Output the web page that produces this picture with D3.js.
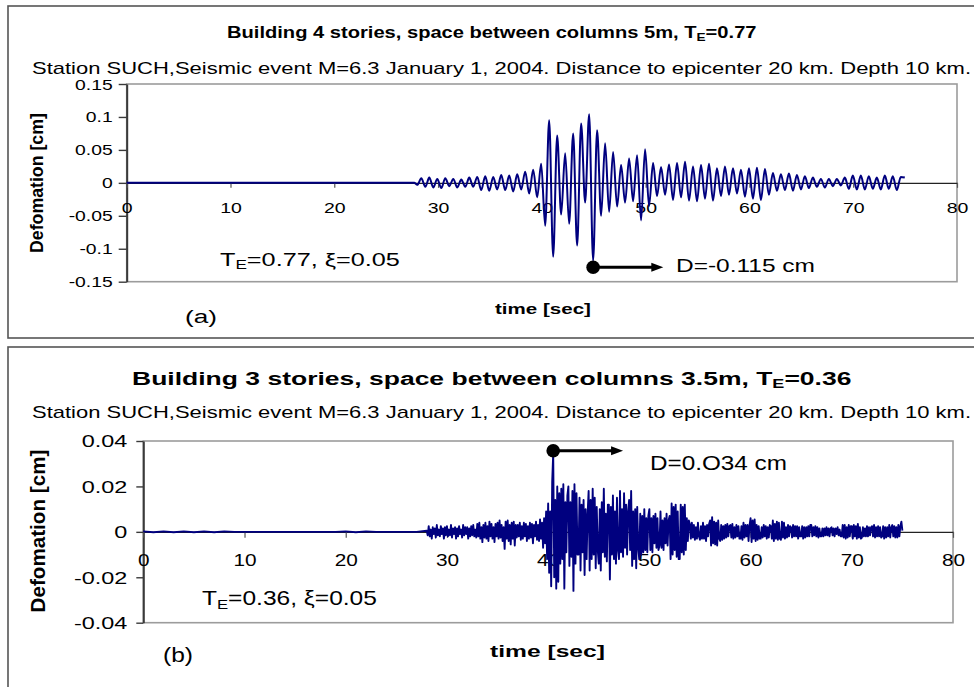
<!DOCTYPE html>
<html>
<head>
<meta charset="utf-8">
<script src="https://cdn.jsdelivr.net/npm/d3@7"></script>
<style>
  body { margin: 0; background: #fff; }
  svg { display: block; }
  text { font-family: "Liberation Sans", Arial, sans-serif; }
</style>
</head>
<body>
<svg id="c" width="974" height="687"></svg>
<script>
// ---------------- DATA ----------------
const xTicks = [0, 10, 20, 30, 40, 50, 60, 70, 80];
const xTickLabels = ["0", "10", "20", "30", "40", "50", "60", "70", "80"];

const yTicksA = [0.15, 0.1, 0.05, 0, -0.05, -0.1, -0.15];
const yTickLabelsA = ["0.15", "0.1", "0.05", "0", "-0.05", "-0.1", "-0.15"];
const yTicksB = [0.04, 0.02, 0, -0.02, -0.04];
const yTickLabelsB = ["0.04", "0.02", "0", "-0.02", "-0.04"];

// Panel (a): deformation [cm], alternate peaks read every half period (0.385 s) from 28 s
const preTimesA = [0, 27.7];
const preValuesA = [0, 0];
const startA = 28.0, stepA = 0.385;
const valuesA = [
  -0.003, 0.007, -0.006, 0.008, -0.007, 0.006, -0.008, 0.007, -0.005, 0.006,
  -0.007, 0.005, -0.006, 0.008, -0.006, 0.009, -0.011, 0.010, -0.012, 0.009,
  -0.010, 0.012, -0.011, 0.011, -0.013, 0.013, -0.010, 0.017, -0.016, 0.020,
  -0.022, 0.029, -0.065, 0.095, -0.112, 0.072, -0.048, 0.045, -0.062, 0.075,
  -0.095, 0.090, -0.030, 0.104, -0.118, 0.080, -0.050, 0.060, -0.044, 0.047,
  -0.036, 0.027, -0.030, 0.037, -0.028, 0.042, -0.057, 0.051, -0.035, 0.030,
  -0.020, 0.024, -0.018, 0.028, -0.026, 0.030, -0.022, 0.032, -0.027, 0.025,
  -0.028, 0.027, -0.024, 0.029, -0.027, 0.022, -0.020, 0.025, -0.018, 0.022,
  -0.016, 0.020, -0.021, 0.022, -0.024, 0.023, -0.026, 0.021, -0.018, 0.015,
  -0.012, 0.013, -0.011, 0.014, -0.012, 0.012, -0.010, 0.010, -0.008, 0.008,
  -0.006, 0.006, -0.007, 0.006, -0.005, 0.006, -0.004, 0.008, -0.009, 0.011,
  -0.010, 0.011, -0.010, 0.010, -0.009, 0.008, -0.010, 0.011, -0.009, 0.010,
  -0.011, 0.009, 0.008
];

// Panel (b): deformation in 10^-3 cm, read every 0.1 s from 28 s
const unitB = 0.001;
const preStepB = 1.0;
const preValuesB = [
  0.2, -0.2, 0.2, -0.2, 0.2, -0.2, 0.2, -0.2, 0.2, 0,
  0, 0, 0, 0, 0, 0, 0, 0, 0, 0,
  0.2, -0.2, 0.2, 0, 0, 0, 0, 0
];
const startB = 28.0, stepB = 0.1;
const valuesB = [
  0.5, -1.5, 2.5, -2, 1, -3, 2, -1, 1.5, -2.5,
  3, -1.5, 1, -2, 2.5, -1, 1.5, -3, 2, -1.5,
  2.5, -2, 1, -1.5, 3, -2.5, 1.5, -1, 2, -3,
  1.5, -2, 2.5, -1, 1, -2.5, 3, -1.5, 2, -1,
  2, -3, 1.5, -2, 2.5, -1.5, 3, -2, 1, -2.5,
  3.5, -2, 4, -3, 2, -4.5, 3, -2.5, 4, -3,
  2.5, -4, 4.5, -2, 3.5, -3, 2, -4.5, 3.5, -2,
  4, -3, 5, -2.5, 3, -4, 2, -7.5, 4.5, -3,
  5, -4, 3, -5.5, 4, -3, 4.5, -6, 3, -2.5,
  3, -2, 4, -3.5, 2.5, -3, 4, -2, 3.5, -4,
  2.5, -3, 4, -2.5, 3.5, -5, 3, -2, 4.5, -3.5,
  3, -4, 5.5, -3, 4, -7, 6, -5, 9, -12,
  12.5, -18, 9, -24, 22, 34.5, -20, 14, -25, 20,
  -22, 17, -14, 19, -12, 21, -25, 13, -9, 16,
  20, -15, 13, -11, 18, -26, 21, -14, 17, -10,
  -10, 15, -17, 12, -9, 14, -19, 10, -12, 8,
  18, -17, 14, -12, 19, -10, 15, -16, 11, -8,
  -14, 10, -17, 13, -9, 19, -11, 8, -13, 12,
  12, -21, 11, -10, 16, -12, 9, -14, 15, -8,
  -12, 18, -9, 10, -11, 17, -7, 12, -10, 9,
  14, -8, 18, -15, 9, -12, 10, -16, 11, -7,
  -12, 8, -10, 7, -9, 10, -8, 6, -9, 7,
  10, -8, 6, -9, 7, -5, 8, -7, 6, -8,
  -6, 9, -7, 5, -8, 6, -5, 8, -6, 5,
  7, -12, 12.5, -10, 11, -8, 12, -11, 9, -12,
  -12, 12, -9, 11, -10, 12, -8, 6, -4, 5,
  3.5, -3, 4, -2.5, 3, -3.5, 2, -3, 4, -2,
  -3.5, 2.5, -3, 4, -3, 2.5, -4, 3, -2, 3.5,
  5, -6, 6.5, -5, 4.5, -5.5, 4, -6, 5, -3,
  -4, 3, -3.5, 2.5, -3, 3, -2.5, 3.5, -2, 2.5,
  3, -2.5, 3.5, -3, 2, -2.5, 3, -2, 2.5, -3,
  -3, 2.5, -3.5, 4, -2.5, 3, -2, 3, -4, 3,
  6, -4.5, 5, -3, 5.5, -4, 3, -3.5, 2.5, -3,
  -3, 2, -2.5, 3, -2, 2.5, -3, 2, -2.5, 3,
  2.5, -3, 5, -4, 3.5, -3, 4.5, -3.5, 4, -3,
  -3.5, 4.5, -2.5, 4, -3, 2, -2.5, 3, -2, 2.5,
  2, -2.5, 3, -2, 2.5, -2, 2.5, -3, 2, -2,
  -2, 2.5, -3, 2, -2.5, 2, -2, 2.5, -2, 3,
  3, -2, 2, -1.5, 2.5, -2, 2, -2.5, 1.5, -2,
  -2, 1.5, -2, 1.5, -1.5, 2, -1.5, 1.5, -2, 1.5,
  2, -1.5, 1.5, -2, 1.5, -1, 2, -1.5, 1, -2,
  -2, 3, -2.5, 3, -3, 2, -2.5, 3, -2, 2.5,
  2.5, -3, 3, -2, 2.5, -3, 3.5, -2.5, 2, -3,
  -2.5, 2, -2, 1.5, -2, 2.5, -2, 2, -1.5, 2,
  2.5, -2, 3, -2.5, 2, -2, 2.5, -2, 2, -2.5,
  -2, 2.5, -3, 2, -2.5, 2, -2, 3, -2.5, 2,
  3, -2, 2.5, -2.5, 2, -2.5, 3, -2, 2.5, 4.5,
  0.5
];

// annotations (data units)
const peakA = { t: 44.94, v: -0.128, arrowTo: 51.7, label: "D=-0.115 cm" };
const peakB = { t: 40.5, v: 0.0357, arrowTo: 47.4, label: "D=0.O34 cm" };

// ---------------- DRAW ----------------
const svg = d3.select("#c");
const NAVY = "#00007f";

svg.append("rect").attr("x", 8).attr("y", 6).attr("width", 980).attr("height", 332)
  .attr("fill", "none").attr("stroke", "#555").attr("stroke-width", 1.6);
svg.append("rect").attr("x", 8).attr("y", 347).attr("width", 980).attr("height", 360)
  .attr("fill", "none").attr("stroke", "#555").attr("stroke-width", 1.6);

function label(parent, s) {
  const g = parent.append("g").attr("transform", `translate(${s.x},${s.y})`);
  const inner = g.append("g");
  const t = inner.append("text").attr("font-size", s.size)
    .attr("font-weight", s.bold ? "bold" : "normal").attr("fill", "#000");
  let prevSub = false;
  s.parts.forEach(p => {
    if (typeof p === "object") {
      t.append("tspan").attr("font-size", s.size * 0.68).attr("dy", s.size * 0.18).text(p.sub);
      prevSub = true;
    } else {
      const ts = t.append("tspan").text(p);
      if (prevSub) ts.attr("dy", -s.size * 0.18);
      prevSub = false;
    }
  });
  const w = t.node().getComputedTextLength();
  if (s.rotate) {
    t.attr("x", -w / 2);
    g.attr("transform", `translate(${s.x},${s.y}) scale(${s.thick || 1},1) rotate(-90)`);
    inner.attr("transform", `scale(${s.width / w},1)`);
    return;
  }
  const sc = s.width ? s.width / w : (s.sx || 1);
  const off = s.anchor === "middle" ? -w / 2 : s.anchor === "end" ? -w : 0;
  t.attr("x", off);
  inner.attr("transform", `scale(${sc},1)`);
}

function panel(P) {
  const g = svg.append("g");
  const x = d3.scaleLinear().domain([0, 80]).range([P.x0, P.x1]);
  const y = d3.scaleLinear().domain(P.yDomain).range([P.yBot, P.yTop]);

  g.append("rect").attr("x", P.x0).attr("y", P.yTop).attr("width", P.x1 - P.x0)
    .attr("height", P.yBot - P.yTop).attr("fill", "none")
    .attr("stroke", "#9c9c9c").attr("stroke-width", 1.6);

  const ya = d3.axisLeft(y).tickValues(P.yTicks)
    .tickFormat(d => P.yLabels[P.yTicks.indexOf(d)]).tickSize(P.yTickLen).tickSizeOuter(0);
  const gy = g.append("g").attr("transform", `translate(${P.x0},0)`).call(ya);
  gy.select(".domain").attr("stroke", "#3a3a3a").attr("stroke-width", 2);
  gy.selectAll(".tick line").attr("stroke", "#3a3a3a").attr("stroke-width", 1.4);
  gy.selectAll(".tick text").attr("x", null).attr("dy", null)
    .attr("font-family", "Liberation Sans, Arial, sans-serif")
    .attr("font-size", P.ySize).attr("fill", "#000").attr("text-anchor", "end")
    .attr("transform", `translate(${-P.yGap},${P.ySize * 0.36}) scale(${P.ySx},1)`);

  const xa = d3.axisBottom(x).tickValues(xTicks)
    .tickFormat(d => xTickLabels[xTicks.indexOf(d)]).tickSize(P.xTickLen).tickSizeOuter(0);
  const gx = g.append("g").attr("transform", `translate(0,${y(0)})`).call(xa);
  gx.select(".domain").attr("stroke", "#222").attr("stroke-width", 1.2);
  gx.selectAll(".tick line").attr("stroke", "#555").attr("stroke-width", 1.2);
  gx.selectAll(".tick text").attr("y", null).attr("dy", null)
    .attr("font-family", "Liberation Sans, Arial, sans-serif")
    .attr("font-size", P.xSize).attr("fill", "#000").attr("text-anchor", "middle")
    .attr("transform", `translate(0,${P.xBase}) scale(${P.xSx},1)`);

  const line = d3.line().x(d => x(d.t)).y(d => y(d.v)).curve(P.curve);
  g.append("path").datum(P.series).attr("d", line).attr("fill", "none")
    .attr("stroke", NAVY).attr("stroke-width", P.lw).attr("stroke-linejoin", "round");

  const pk = P.peak;
  const ax0 = x(pk.t), ay = y(pk.v), ax1 = x(pk.arrowTo);
  g.append("line").attr("x1", ax0).attr("y1", ay).attr("x2", ax1 - 10).attr("y2", ay)
    .attr("stroke", "#000").attr("stroke-width", 3);
  g.append("path").attr("d", `M${ax1},${ay} L${ax1 - 12},${ay - 4.5} L${ax1 - 12},${ay + 4.5} Z`)
    .attr("fill", "#000");
  g.append("circle").attr("cx", ax0).attr("cy", ay).attr("r", 6.8).attr("fill", "#000");
  label(g, { x: P.dLabel.x, y: P.dLabel.y, size: P.dLabel.size, width: P.dLabel.w, parts: [pk.label] });
  return { x, y };
}

// ---- panel (a)
const seriesA = preTimesA.map((t, i) => ({ t, v: preValuesA[i] }))
  .concat(valuesA.map((v, i) => ({ t: startA + i * stepA, v })));
panel({
  x0: 126.7, x1: 957, yTop: 84, yBot: 281.7, yDomain: [-0.15, 0.15],
  yTicks: yTicksA, yLabels: yTickLabelsA, yTickLen: 8, ySize: 14, ySx: 1.38, yGap: 14,
  xTickLen: 5, xSize: 15, xSx: 1.3, xBase: 30,
  series: seriesA, lw: 2, curve: d3.curveMonotoneX, peak: peakA,
  dLabel: { x: 676, y: 272, size: 19, w: 139 }
});
label(svg, { x: 492, y: 38, size: 16.5, bold: true, anchor: "middle", width: 530,
  parts: ["Building 4 stories, space between columns 5m, T", { sub: "E" }, "=0.77"] });
label(svg, { x: 32, y: 74, size: 16, width: 940,
  parts: ["Station SUCH,Seismic event M=6.3 January 1, 2004. Distance to epicenter 20 km. Depth 10 km."] });
label(svg, { x: 43, y: 183, size: 16, bold: true, rotate: true, width: 140, thick: 1.15,
  parts: ["Defomation [cm]"] });
label(svg, { x: 220, y: 266, size: 19, width: 180,
  parts: ["T", { sub: "E" }, "=0.77, ξ=0.05"] });
label(svg, { x: 185, y: 323, size: 19, width: 32, parts: ["(a)"] });
label(svg, { x: 495, y: 314, size: 14, bold: true, width: 96, parts: ["time [sec]"] });

// ---- panel (b)
const seriesB = preValuesB.map((v, i) => ({ t: i * preStepB, v: v * unitB }))
  .concat(valuesB.map((v, i) => ({ t: startB + i * stepB, v: v * unitB })));
panel({
  x0: 143.3, x1: 953, yTop: 441, yBot: 622.7, yDomain: [-0.04, 0.04],
  yTicks: yTicksB, yLabels: yTickLabelsB, yTickLen: 7, ySize: 16.5, ySx: 1.42, yGap: 16,
  xTickLen: 6, xSize: 16, xSx: 1.3, xBase: 34,
  series: seriesB, lw: 1.9, curve: d3.curveLinear, peak: peakB,
  dLabel: { x: 650, y: 470, size: 20, w: 137 }
});
label(svg, { x: 492, y: 385, size: 18, bold: true, anchor: "middle", width: 720,
  parts: ["Building 3 stories, space between columns 3.5m, T", { sub: "E" }, "=0.36"] });
label(svg, { x: 32, y: 418, size: 16, width: 940,
  parts: ["Station SUCH,Seismic event M=6.3 January 1, 2004. Distance to epicenter 20 km. Depth 10 km."] });
label(svg, { x: 45, y: 531, size: 19, bold: true, rotate: true, width: 163, thick: 1.1,
  parts: ["Defomation [cm]"] });
label(svg, { x: 202, y: 605, size: 20, width: 175,
  parts: ["T", { sub: "E" }, "=0.36, ξ=0.05"] });
label(svg, { x: 163, y: 662, size: 20, width: 30, parts: ["(b)"] });
label(svg, { x: 490, y: 657, size: 16, bold: true, width: 115, parts: ["time [sec]"] });
</script>
</body>
</html>
